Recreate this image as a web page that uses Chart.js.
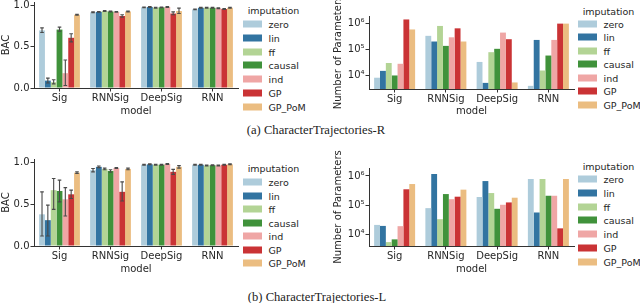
<!DOCTYPE html>
<html><head><meta charset="utf-8">
<script src="https://cdn.jsdelivr.net/npm/chart.js@4.4.0/dist/chart.umd.min.js"></script>
<style>
html,body{margin:0;padding:0;background:#fff;}
#root{position:relative;width:640px;height:303px;overflow:hidden;font-family:"DejaVu Sans",sans-serif;color:#262626;}
.box{position:absolute;}
.lg{position:absolute;left:0;top:0;font-size:9.5px;}
.lg .t{position:absolute;white-space:nowrap;transform:translate(-50%,-50%);}
.lg .sw{position:absolute;width:19px;height:7px;transform:translateY(-50%);}
.lg .lb{position:absolute;white-space:nowrap;transform:translateY(-50%);}
.cap{position:absolute;font-family:"Liberation Serif",serif;font-size:12.6px;white-space:nowrap;transform:translate(-50%,-50%);color:#222;}
</style></head>
<body><div id="root">
<div class="box" style="left:0;top:0"><canvas id="c1" width="242" height="117"></canvas></div>
<div class="box" style="left:320px;top:0"><canvas id="c2" width="256" height="117"></canvas></div>
<div class="box" style="left:0;top:145px"><canvas id="c3" width="242" height="130"></canvas></div>
<div class="box" style="left:320px;top:145px"><canvas id="c4" width="256" height="130"></canvas></div>
<div class="cap" style="left:316px;top:130px">(a) CharacterTrajectories-R</div>
<div class="cap" style="left:317px;top:297px">(b) CharacterTrajectories-L</div>
</div>
<script>
// ---------------- data ----------------
const models = ['Sig', 'RNNSig', 'DeepSig', 'RNN'];
const imputations = ['zero', 'lin', 'ff', 'causal', 'ind', 'GP', 'GP_PoM'];
const bacTicks = [0, 0.5, 1.0];
const paramTicks = [1e4, 1e5, 1e6];
const paramTickLabels = ['10⁴', '10⁵', '10⁶'];

// (a) CharacterTrajectories-R : BAC, rows = imputation, cols = model
const bacR = [
  [0.70, 0.92, 0.98, 0.955],
  [0.09, 0.925, 0.985, 0.975],
  [0.07, 0.935, 0.975, 0.975],
  [0.71, 0.93, 0.98, 0.975],
  [0.18, 0.925, 0.985, 0.97],
  [0.61, 0.875, 0.905, 0.96],
  [0.89, 0.93, 0.935, 0.975]
];
const bacR_low = [
  [0.675, 0.915, 0.975, 0.95],
  [0.06, 0.92, 0.98, 0.97],
  [0.05, 0.93, 0.97, 0.97],
  [0.69, 0.925, 0.975, 0.97],
  [0.03, 0.92, 0.98, 0.965],
  [0.56, 0.86, 0.89, 0.955],
  [0.885, 0.925, 0.905, 0.97]
];
const bacR_high = [
  [0.73, 0.925, 0.985, 0.96],
  [0.12, 0.93, 0.99, 0.98],
  [0.10, 0.94, 0.98, 0.98],
  [0.74, 0.935, 0.985, 0.98],
  [0.34, 0.93, 0.99, 0.975],
  [0.66, 0.89, 0.925, 0.965],
  [0.895, 0.935, 0.97, 0.98]
];
const paramsR = [
  [8200, 330000, 33000, 4000],
  [15000, 200000, 5200, 230000],
  [30000, 790000, 78000, 15500],
  [10000, 136000, 105000, 58000],
  [28000, 290000, 440000, 230000],
  [1400000, 640000, 245000, 970000],
  [580000, 200000, 5400, 970000]
];

// (b) CharacterTrajectories-L
const bacL = [
  [0.38, 0.91, 0.975, 0.975],
  [0.31, 0.95, 0.98, 0.975],
  [0.67, 0.925, 0.975, 0.965],
  [0.66, 0.90, 0.975, 0.97],
  [0.56, 0.935, 0.985, 0.965],
  [0.62, 0.65, 0.89, 0.975],
  [0.88, 0.925, 0.95, 0.98]
];
const bacL_low = [
  [0.12, 0.89, 0.97, 0.97],
  [0.12, 0.94, 0.975, 0.97],
  [0.44, 0.915, 0.97, 0.96],
  [0.53, 0.885, 0.97, 0.965],
  [0.36, 0.93, 0.98, 0.96],
  [0.57, 0.54, 0.86, 0.97],
  [0.87, 0.915, 0.935, 0.975]
];
const bacL_high = [
  [0.65, 0.93, 0.98, 0.98],
  [0.49, 0.96, 0.985, 0.98],
  [0.81, 0.935, 0.98, 0.97],
  [0.79, 0.915, 0.98, 0.975],
  [0.70, 0.94, 0.99, 0.97],
  [0.67, 0.77, 0.92, 0.98],
  [0.89, 0.935, 0.965, 0.985]
];
const paramsL = [
  [21000, 79000, 190000, 790000],
  [19400, 1170000, 670000, 56000],
  [5400, 33000, 260000, 790000],
  [6700, 240000, 75000, 210000],
  [19000, 160000, 103000, 210000],
  [350000, 195000, 124000, 16000],
  [530000, 340000, 180000, 790000]
];

// ---------------- style ----------------
const paired = ['#a6cee3', '#1f78b4', '#b2df8a', '#33a02c', '#fb9a99', '#e31a1c', '#fdbf6f'];
function desat(hex, f) {
  let r = parseInt(hex.slice(1, 3), 16) / 255, g = parseInt(hex.slice(3, 5), 16) / 255, b = parseInt(hex.slice(5, 7), 16) / 255;
  const mx = Math.max(r, g, b), mn = Math.min(r, g, b), l = (mx + mn) / 2, d = mx - mn;
  if (d === 0) return hex;
  let s = l > 0.5 ? d / (2 - mx - mn) : d / (mx + mn);
  let h;
  if (mx === r) h = ((g - b) / d) % 6; else if (mx === g) h = (b - r) / d + 2; else h = (r - g) / d + 4;
  h = h * 60; if (h < 0) h += 360;
  s *= f;
  const c = (1 - Math.abs(2 * l - 1)) * s, x = c * (1 - Math.abs((h / 60) % 2 - 1)), m = l - c / 2;
  let rr, gg, bb;
  if (h < 60) [rr, gg, bb] = [c, x, 0]; else if (h < 120) [rr, gg, bb] = [x, c, 0];
  else if (h < 180) [rr, gg, bb] = [0, c, x]; else if (h < 240) [rr, gg, bb] = [0, x, c];
  else if (h < 300) [rr, gg, bb] = [x, 0, c]; else [rr, gg, bb] = [c, 0, x];
  const to = v => Math.round((v + m) * 255);
  return `rgb(${to(rr)},${to(gg)},${to(bb)})`;
}
const colors = paired.map(c => desat(c, 0.75));
const INK = '#262626', AX = '#333333';
const FONT = {family: 'DejaVu Sans', size: 10};

function errPlugin(low, high) {
  return {
    id: 'errbars',
    afterDatasetsDraw(chart) {
      if (!low) return;
      const ctx = chart.ctx, ys = chart.scales.y, cap = 1.8;
      ctx.save();
      ctx.strokeStyle = '#4a4a4a';
      ctx.lineWidth = 1.1;
      chart.data.datasets.forEach((ds, i) => {
        chart.getDatasetMeta(i).data.forEach((bar, j) => {
          const x = bar.x, y1 = ys.getPixelForValue(low[i][j]), y2 = ys.getPixelForValue(high[i][j]);
          ctx.beginPath();
          ctx.moveTo(x, y1); ctx.lineTo(x, y2);
          ctx.moveTo(x - cap, y1); ctx.lineTo(x + cap, y1);
          ctx.moveTo(x - cap, y2); ctx.lineTo(x + cap, y2);
          ctx.stroke();
        });
      });
      ctx.restore();
    }
  };
}

function makeChart(id, cfg) {
  const datasets = imputations.map((name, i) => ({
    label: name, data: cfg.values[i], backgroundColor: colors[i], borderWidth: 0,
    categoryPercentage: 0.8, barPercentage: 1
  }));
  const isLog = cfg.log;
  const yScale = {
    type: isLog ? 'logarithmic' : 'linear',
    min: cfg.yMin, max: cfg.yMax,
    grid: {display: true, drawOnChartArea: false, tickLength: 3.5, tickColor: AX, tickWidth: 1},
    border: {display: true, color: AX, width: 1},
    ticks: {
      font: FONT, color: INK, padding: 1,
      callback: v => isLog ? paramTickLabels[paramTicks.indexOf(v)] : Number(v).toFixed(1)
    },
    afterBuildTicks: s => { s.ticks = (isLog ? paramTicks : bacTicks).map(v => ({value: v})); },
    title: {display: true, text: cfg.yTitle, font: FONT, color: INK, padding: {top: cfg.yTitlePad, bottom: 0}},
    afterFit: s => { s.width = cfg.yWidth; s.paddingTop = 0; s.paddingBottom = 0; }
  };
  return new Chart(document.getElementById(id), {
    type: 'bar',
    data: {labels: models, datasets},
    options: {
      responsive: false, animation: false, devicePixelRatio: 1,
      layout: {padding: {top: cfg.padTop, right: cfg.padRight, left: 0, bottom: 0}},
      plugins: {legend: {display: false}, tooltip: {enabled: false}},
      scales: {
        x: {
          offset: true,
          grid: {display: true, drawOnChartArea: false, offset: false, tickLength: 3.5, tickColor: AX, tickWidth: 1},
          border: {display: true, color: AX, width: 1},
          ticks: {font: FONT, color: INK, padding: 1, maxRotation: 0, autoSkip: false},
          title: {display: true, text: 'model', font: FONT, color: INK, padding: {top: 0, bottom: 0}},
          afterFit: s => { s.height = cfg.xHeight; s.paddingLeft = 0; s.paddingRight = 0; }
        },
        y: yScale
      }
    },
    plugins: [errPlugin(cfg.low, cfg.high)]
  });
}

makeChart('c1', {values: bacR, low: bacR_low, high: bacR_high, yMin: 0, yMax: 1.045, yTitle: 'BAC',
  yWidth: 34, yTitlePad: 0, padTop: 2, padRight: 4, xHeight: 29});
makeChart('c2', {values: paramsR, log: true, yMin: 3030, yMax: 1.9e6, yTitle: 'Number of Parameters',
  yWidth: 49, yTitlePad: 12, padTop: 16, padRight: 2, xHeight: 28});
makeChart('c3', {values: bacL, low: bacL_low, high: bacL_high, yMin: 0, yMax: 1.044, yTitle: 'BAC',
  yWidth: 34, yTitlePad: 0, padTop: 14, padRight: 4, xHeight: 29});
makeChart('c4', {values: paramsL, log: true, yMin: 3970, yMax: 1.88e6, yTitle: 'Number of Parameters',
  yWidth: 49, yTitlePad: 12, padTop: 23, padRight: 2, xHeight: 29});

// ---------------- legends (HTML text) ----------------
function legend(sx, tx, ty, y0, step) {
  const root = document.getElementById('root');
  const d = document.createElement('div');
  d.className = 'lg';
  let html = `<div class="t" style="left:${tx}px;top:${ty}px">imputation</div>`;
  imputations.forEach((name, i) => {
    const y = y0 + i * step;
    html += `<div class="sw" style="left:${sx}px;top:${y}px;background:${colors[i]}"></div>`;
    html += `<div class="lb" style="left:${sx + 25.5}px;top:${y}px">${name}</div>`;
  });
  d.innerHTML = html;
  root.appendChild(d);
}
legend(243, 273.5, 10, 24, 13.75);
legend(578, 608.5, 11, 24, 13.45);
legend(243, 273.5, 168.3, 182.3, 13.5);
legend(578, 608.5, 166, 179.3, 13.73);
</script>
</body></html>
